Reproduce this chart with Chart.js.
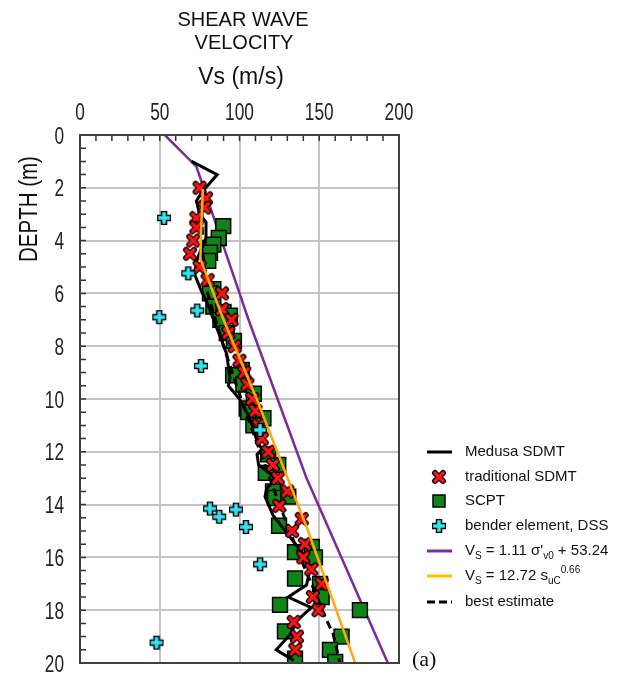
<!DOCTYPE html>
<html>
<head>
<meta charset="utf-8">
<script src="https://cdn.jsdelivr.net/npm/chart.js@4.4.1/dist/chart.umd.min.js"></script>
<style>
  body { margin: 0; background: #fff; }
  #wrap { width: 617px; height: 675px; }
</style>
</head>
<body>
<div id="wrap"><canvas id="vsChart" width="617" height="675"></canvas></div>
<script>
// ---- data: depth (m) and Vs (m/s) ----
const medusaDepth = [1.0, 1.5, 2.2, 2.5, 3.0, 3.3, 3.9, 4.3, 4.8, 5.3, 5.9, 6.4, 7.2, 7.8, 8.3, 9.2, 9.5, 10.0, 10.5, 11.0, 11.6, 11.9, 12.1, 12.5, 13.0, 13.4, 13.7, 14.4, 15.1, 15.8, 16.5, 17.05, 17.5, 17.9, 18.4, 18.9, 19.5, 19.9];
const medusaVs    = [70, 86, 76, 73, 75, 79, 79, 76, 73, 72, 76, 80, 85, 89, 92, 94, 93, 100, 104.5, 108, 111, 114, 111, 112, 123, 117, 116, 121, 130, 139, 144, 142, 130.5, 145, 136, 132, 123, 134];

const sdmtDepth = [2.0, 2.4, 2.75, 3.15, 3.5, 4.0, 4.5, 5.0, 5.5, 6.0, 6.6, 7.0, 7.5, 8.0, 8.55, 9.0, 9.45, 10.0, 10.45, 11.0, 11.5, 12.0, 12.5, 13.0, 13.5, 14.05, 14.55, 15.0, 15.5, 16.0, 16.45, 17.0, 17.5, 18.0, 18.45, 19.0, 19.5];
const sdmtVs    = [75, 79, 78, 73, 73, 71, 69, 75, 80, 89, 89, 95, 93, 97, 100, 103, 105, 108, 110, 112, 114, 118, 121, 124, 130, 125, 139, 133, 141, 140, 145, 151.5, 146, 149.5, 134, 136, 135];

const scptDepth = [3.45, 3.9, 4.15, 4.46, 4.77, 5.84, 6.0, 6.5, 6.7, 6.84, 7.0, 7.5, 7.8, 8.9, 9.1, 9.45, 9.8, 10.36, 10.5, 10.73, 11.0, 12.1, 12.5, 12.8, 13.5, 13.75, 13.7, 14.8, 15.6, 15.8, 16.0, 16.8, 17.0, 17.5, 17.8, 18.0, 18.8, 19.0, 19.5, 19.84, 19.96];
const scptVs    = [89.8, 87, 83.6, 81.5, 80.4, 83.6, 81.5, 83.6, 90, 94, 88, 92, 96.5, 101.4, 96, 102.4, 109, 104.5, 105.5, 115, 108.7, 118, 124.3, 116.5, 121, 122.3, 130.6, 124.8, 145.3, 134.8, 147.3, 134.8, 150.5, 151.5, 125.4, 175.5, 128.5, 164, 156.7, 134.8, 160];

const benderDepth = [3.14, 5.24, 6.65, 6.9, 8.75, 11.17, 14.15, 14.46, 14.19, 14.85, 16.26, 19.23];
const benderVs    = [52.7, 67.9, 73.5, 49.7, 75.9, 112.9, 81.5, 87.3, 97.8, 104, 112.9, 48];

const sigmaDepth = [0, 1.2, 5.46, 6.97, 12.99, 20];
const sigmaVs    = [53.2, 73, 97, 105.5, 142, 193];

const suDepth = [2.05, 3.5, 4.7, 7.0, 10.0, 13.75, 15.0, 20];
const suVs    = [77, 76, 75.5, 90, 110.8, 135, 143, 172.5];

const bestDepth = [2.0, 4.5, 6.0, 8.0, 10.0, 12.0, 14.0, 16.0, 17.4, 18.3, 18.9, 20];
const bestVs    = [76, 77, 80, 90, 101, 113, 125, 138, 148, 154, 158.7, 163];

const xTicks = [0, 50, 100, 150, 200];
const yTicks = [0, 2, 4, 6, 8, 10, 12, 14, 16, 18, 20];

function pts(vs, depth) {
  return vs.map((v, i) => ({ x: v, y: depth[i] }));
}

// marker images: red x and cyan plus, both outlined in black
function makeCross() {
  const c = document.createElement('canvas');
  c.width = c.height = 16;
  const g = c.getContext('2d');
  g.lineCap = 'round';
  const path = () => { g.beginPath(); g.moveTo(4, 4); g.lineTo(12, 12); g.moveTo(12, 4); g.lineTo(4, 12); };
  path(); g.strokeStyle = '#000'; g.lineWidth = 6; g.stroke();
  path(); g.strokeStyle = '#ff1414'; g.lineWidth = 3.2; g.stroke();
  return c;
}
function makePlus() {
  const c = document.createElement('canvas');
  c.width = c.height = 18;
  const g = c.getContext('2d');
  g.beginPath(); g.moveTo(9, 2); g.lineTo(9, 16); g.moveTo(2, 9); g.lineTo(16, 9);
  g.strokeStyle = '#000'; g.lineWidth = 6.5; g.stroke();
  g.beginPath(); g.moveTo(9, 3.2); g.lineTo(9, 14.8); g.moveTo(3.2, 9); g.lineTo(14.8, 9);
  g.strokeStyle = '#2ee6f2'; g.lineWidth = 3.5; g.stroke();
  return c;
}
const crossImg = makeCross();
const plusImg = makePlus();

const purple = '#7a2a9c';
const orange = '#ffa812';
const green = '#118418';

const sans = "'Liberation Sans', Arial, sans-serif";

// condensed text: the figure uses a narrow face, so squeeze a normal one
function narrowText(ctx, text, x, y, size, squeeze, rot) {
  ctx.save();
  ctx.translate(x, y);
  if (rot) ctx.rotate(rot);
  ctx.scale(squeeze, 1);
  ctx.font = size + 'px ' + sans;
  ctx.fillText(text, 0, 0);
  ctx.restore();
}

// titles, tick labels, frame, minor ticks and the legend
const decor = {
  id: 'decor',
  afterDraw(chart) {
    const ctx = chart.ctx;
    const a = chart.chartArea;
    const xs = chart.scales.x, ys = chart.scales.y;
    ctx.save();

    // minor ticks
    ctx.strokeStyle = '#333';
    ctx.lineWidth = 1.5;
    ctx.beginPath();
    for (let v = 10; v < 200; v += 10) {
      const px = xs.getPixelForValue(v);
      ctx.moveTo(px, a.top); ctx.lineTo(px, a.top + 6);
    }
    for (let d = 0.5; d < 20; d += 0.5) {
      const py = ys.getPixelForValue(d);
      ctx.moveTo(a.left, py); ctx.lineTo(a.left + 6, py);
    }
    ctx.stroke();

    // frame
    ctx.strokeStyle = '#404040';
    ctx.lineWidth = 2;
    ctx.strokeRect(a.left, a.top, a.right - a.left, a.bottom - a.top);

    // tick labels
    ctx.fillStyle = '#222';
    ctx.textBaseline = 'alphabetic';
    ctx.textAlign = 'center';
    xTicks.forEach(v => narrowText(ctx, String(v), xs.getPixelForValue(v), 120, 24, 0.72));
    ctx.textAlign = 'right';
    yTicks.forEach(d => narrowText(ctx, String(d), 64, ys.getPixelForValue(d) + 8.5, 24, 0.72));

    // axis titles
    ctx.fillStyle = '#111';
    ctx.textAlign = 'center';
    ctx.font = '20px ' + sans;
    ctx.fillText('SHEAR WAVE', 243, 26);
    ctx.fillText('VELOCITY', 244, 49);
    ctx.font = '23px ' + sans;
    ctx.fillText('Vs (m/s)', 241, 84);
    narrowText(ctx, 'DEPTH (m)', 37, 209, 25, 0.82, -Math.PI / 2);

    ctx.font = '22px "Liberation Serif", serif';
    ctx.textAlign = 'left';
    ctx.fillText('(a)', 412, 666);

    // legend
    const lx = 439, tx = 465;
    const rows = [452, 477, 501, 526, 551, 576, 602];
    const line = (y, color, dash) => {
      ctx.save();
      ctx.strokeStyle = color; ctx.lineWidth = 3; ctx.setLineDash(dash || []);
      ctx.beginPath(); ctx.moveTo(427, y); ctx.lineTo(452, y); ctx.stroke();
      ctx.restore();
    };
    line(rows[0], '#000');
    ctx.drawImage(crossImg, lx - 8, rows[1] - 8);
    ctx.fillStyle = green; ctx.strokeStyle = '#000'; ctx.lineWidth = 1.5;
    ctx.fillRect(lx - 6, rows[2] - 6, 12, 12); ctx.strokeRect(lx - 6, rows[2] - 6, 12, 12);
    ctx.drawImage(plusImg, lx - 9, rows[3] - 9);
    line(rows[4], '#7030a0');
    line(rows[5], '#ffc000');
    line(rows[6], '#000', [8, 4]);

    const rich = (y, parts) => {
      let x = tx;
      ctx.textAlign = 'left';
      ctx.textBaseline = 'middle';
      ctx.fillStyle = '#111';
      parts.forEach(p => {
        const [t, kind] = p;
        let dy = 0;
        if (kind === 'sub') { ctx.font = '10px ' + sans; dy = 5; }
        else if (kind === 'sup') { ctx.font = '10px ' + sans; dy = -6; }
        else ctx.font = '15px ' + sans;
        ctx.fillText(t, x, y + dy);
        x += ctx.measureText(t).width;
      });
    };
    rich(rows[0], [['Medusa SDMT']]);
    rich(rows[1], [['traditional SDMT']]);
    rich(rows[2], [['SCPT']]);
    rich(rows[3], [['bender element, DSS']]);
    rich(rows[4], [['V'], ['S', 'sub'], [' = 1.11 \u03c3\''], ['v0', 'sub'], [' + 53.24']]);
    rich(rows[5], [['V'], ['S', 'sub'], [' = 12.72 s'], ['uC', 'sub'], ['0.66', 'sup']]);
    rich(rows[6], [['best estimate']]);

    ctx.restore();
  }
};

const ctx = document.getElementById('vsChart').getContext('2d');
const chart = new Chart(ctx, {
  type: 'scatter',
  data: {
    datasets: [
      {
        label: 'Vs = 12.72 suC^0.66',
        data: pts(suVs, suDepth),
        showLine: true,
        borderColor: orange,
        borderWidth: 2.5,
        pointRadius: 0
      },
      {
        label: 'bender element, DSS',
        data: pts(benderVs, benderDepth),
        pointStyle: plusImg
      },
      {
        label: 'traditional SDMT',
        data: pts(sdmtVs, sdmtDepth),
        pointStyle: crossImg
      },
      {
        label: 'best estimate',
        data: pts(bestVs, bestDepth),
        showLine: true,
        borderColor: '#000',
        borderWidth: 3,
        borderDash: [8, 5],
        pointRadius: 0
      },
      {
        label: 'Medusa SDMT',
        data: pts(medusaVs, medusaDepth),
        showLine: true,
        borderColor: '#000',
        borderWidth: 3,
        pointRadius: 0
      },
      {
        label: 'SCPT',
        data: pts(scptVs, scptDepth),
        pointStyle: 'rect',
        pointRadius: 10.5,
        backgroundColor: green,
        borderColor: '#000',
        borderWidth: 1.5
      },
      {
        label: "Vs = 1.11 σ'v0 + 53.24",
        data: pts(sigmaVs, sigmaDepth),
        showLine: true,
        borderColor: purple,
        borderWidth: 2.5,
        pointRadius: 0
      }
    ]
  },
  options: {
    responsive: false,
    devicePixelRatio: 1,
    animation: false,
    layout: { padding: { left: 0, top: 0, right: 218, bottom: 10 } },
    plugins: {
      legend: { display: false },
      tooltip: { enabled: false }
    },
    scales: {
      x: {
        type: 'linear',
        position: 'top',
        min: 0,
        max: 200,
        afterFit: s => { s.height = 135; },
        afterBuildTicks: s => { s.ticks = xTicks.map(v => ({ value: v })); },
        grid: { color: '#c4c4c4', lineWidth: 2, drawTicks: false },
        border: { display: false },
        ticks: { display: false }
      },
      y: {
        type: 'linear',
        reverse: true,
        min: 0,
        max: 20,
        afterFit: s => { s.width = 80; },
        afterBuildTicks: s => { s.ticks = yTicks.map(v => ({ value: v })); },
        grid: { color: '#c4c4c4', lineWidth: 2, drawTicks: false },
        border: { display: false },
        ticks: { display: false }
      }
    }
  },
  plugins: [decor]
});
</script>
</body>
</html>
